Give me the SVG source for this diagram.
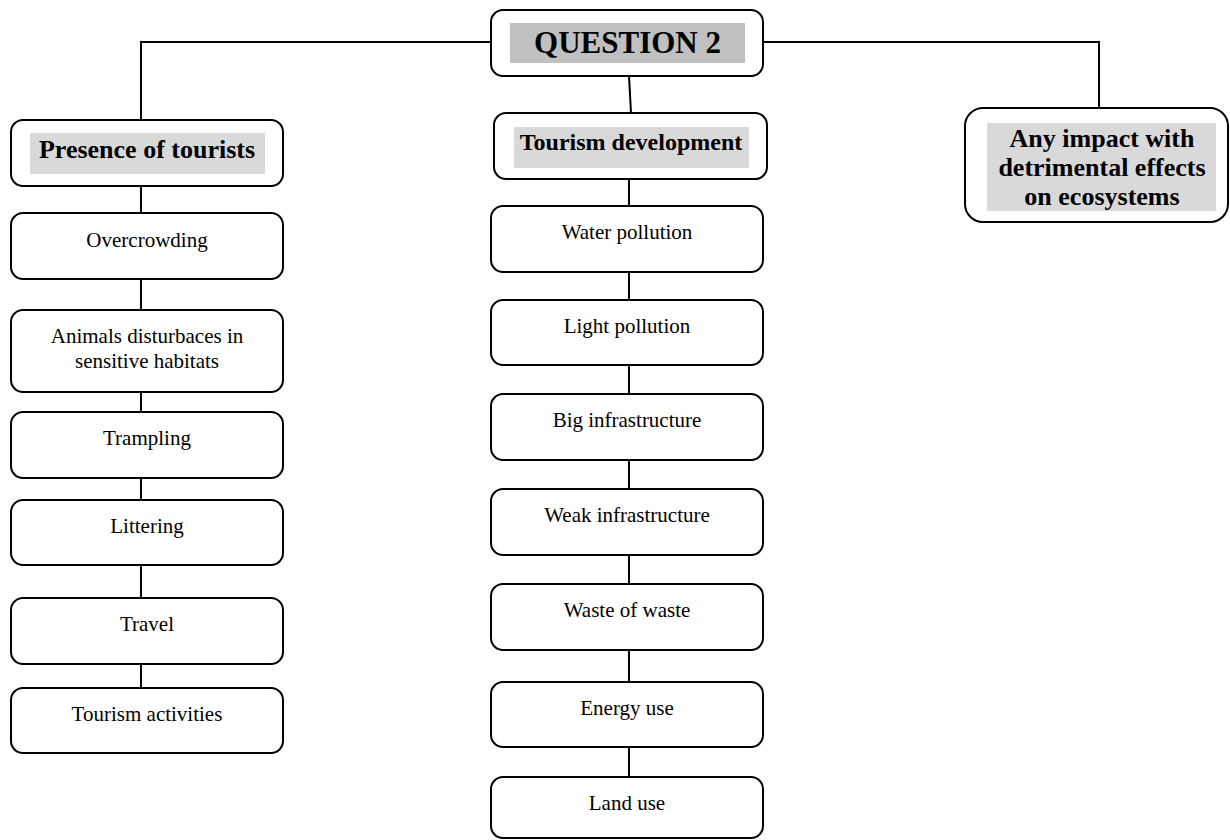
<svg xmlns="http://www.w3.org/2000/svg" width="1230" height="840" viewBox="0 0 1230 840">
  <style>
    .box { fill: #ffffff; stroke: #000000; stroke-width: 2; }
    .hl { fill: #d9d9d9; }
    .hl-dark { fill: #c0c0c0; }
    .conn { stroke: #000000; stroke-width: 2; fill: none; }
    .t { font-family: "Liberation Serif", "Times New Roman", "DejaVu Serif", serif; font-weight: normal; font-style: normal; font-size: 21px; fill: #000000; text-anchor: middle; }
    .tb { font-family: "Liberation Serif", "Times New Roman", "DejaVu Serif", serif; font-weight: bold; fill: #000000; text-anchor: middle; }
  </style>
  <defs>
    <clipPath id="impact-clip">
      <rect x="987" y="123" width="229" height="88"/>
    </clipPath>
  </defs>
  <rect width="1230" height="840" fill="#ffffff"/>

  <!-- connectors -->
  <g id="connectors">
    <polyline class="conn" points="491,42 141,42 141,120"/>
    <polyline class="conn" points="763,42 1099,42 1099,108"/>
    <line class="conn" x1="629" y1="76" x2="631" y2="113"/>
    <line class="conn" x1="141" y1="186" x2="141" y2="213"/>
    <line class="conn" x1="141" y1="279" x2="141" y2="310"/>
    <line class="conn" x1="141" y1="392" x2="141" y2="412"/>
    <line class="conn" x1="141" y1="478" x2="141" y2="500"/>
    <line class="conn" x1="141" y1="565" x2="141" y2="598"/>
    <line class="conn" x1="141" y1="664" x2="141" y2="688"/>
    <line class="conn" x1="629" y1="179" x2="629" y2="206"/>
    <line class="conn" x1="629" y1="272" x2="629" y2="300"/>
    <line class="conn" x1="629" y1="365" x2="629" y2="394"/>
    <line class="conn" x1="629" y1="460" x2="629" y2="489"/>
    <line class="conn" x1="629" y1="555" x2="629" y2="584"/>
    <line class="conn" x1="629" y1="650" x2="629" y2="682"/>
    <line class="conn" x1="629" y1="747" x2="629" y2="777"/>
  </g>

  <!-- root -->
  <g id="question-2">
    <rect class="box" x="491" y="10" width="272" height="66" rx="12"/>
    <rect class="hl-dark" x="510" y="23" width="235" height="40"/>
    <text class="tb" x="627.5" y="53" font-size="31">QUESTION 2</text>
  </g>

  <!-- branch heads -->
  <g id="presence-of-tourists">
    <rect class="box" x="11" y="120" width="272" height="66" rx="12"/>
    <rect class="hl" x="30" y="133" width="235" height="41"/>
    <text class="tb" x="147" y="158" font-size="26">Presence of tourists</text>
  </g>
  <g id="tourism-development">
    <rect class="box" x="494" y="113" width="273" height="66" rx="12"/>
    <rect class="hl" x="514" y="127" width="235" height="41"/>
    <text class="tb" x="631" y="150" font-size="24">Tourism development</text>
  </g>
  <g id="any-impact">
    <rect class="box" x="965" y="108" width="263" height="114" rx="18"/>
    <rect class="hl" x="987" y="123" width="229" height="88"/>
    <g clip-path="url(#impact-clip)">
      <text class="tb" x="1102" y="147" font-size="26">Any impact with</text>
      <text class="tb" x="1102" y="176" font-size="26">detrimental effects</text>
      <text class="tb" x="1102" y="205" font-size="26">on ecosystems</text>
    </g>
  </g>

  <!-- presence of tourists chain -->
  <g id="overcrowding">
    <rect class="box" x="11" y="213" width="272" height="66" rx="12"/>
    <text class="t" x="147" y="247">Overcrowding</text>
  </g>
  <g id="animals-disturbances">
    <rect class="box" x="11" y="310" width="272" height="82" rx="12"/>
    <text class="t" x="147" y="343">Animals disturbaces in</text>
    <text class="t" x="147" y="368">sensitive habitats</text>
  </g>
  <g id="trampling">
    <rect class="box" x="11" y="412" width="272" height="66" rx="12"/>
    <text class="t" x="147" y="445">Trampling</text>
  </g>
  <g id="littering">
    <rect class="box" x="11" y="500" width="272" height="65" rx="12"/>
    <text class="t" x="147" y="533">Littering</text>
  </g>
  <g id="travel">
    <rect class="box" x="11" y="598" width="272" height="66" rx="12"/>
    <text class="t" x="147" y="631">Travel</text>
  </g>
  <g id="tourism-activities">
    <rect class="box" x="11" y="688" width="272" height="65" rx="12"/>
    <text class="t" x="147" y="721">Tourism activities</text>
  </g>

  <!-- tourism development chain -->
  <g id="water-pollution">
    <rect class="box" x="491" y="206" width="272" height="66" rx="12"/>
    <text class="t" x="627" y="239">Water pollution</text>
  </g>
  <g id="light-pollution">
    <rect class="box" x="491" y="300" width="272" height="65" rx="12"/>
    <text class="t" x="627" y="333">Light pollution</text>
  </g>
  <g id="big-infrastructure">
    <rect class="box" x="491" y="394" width="272" height="66" rx="12"/>
    <text class="t" x="627" y="427">Big infrastructure</text>
  </g>
  <g id="weak-infrastructure">
    <rect class="box" x="491" y="489" width="272" height="66" rx="12"/>
    <text class="t" x="627" y="522">Weak infrastructure</text>
  </g>
  <g id="waste-of-waste">
    <rect class="box" x="491" y="584" width="272" height="66" rx="12"/>
    <text class="t" x="627" y="617">Waste of waste</text>
  </g>
  <g id="energy-use">
    <rect class="box" x="491" y="682" width="272" height="65" rx="12"/>
    <text class="t" x="627" y="715">Energy use</text>
  </g>
  <g id="land-use">
    <rect class="box" x="491" y="777" width="272" height="61" rx="12"/>
    <text class="t" x="627" y="810">Land use</text>
  </g>
</svg>
